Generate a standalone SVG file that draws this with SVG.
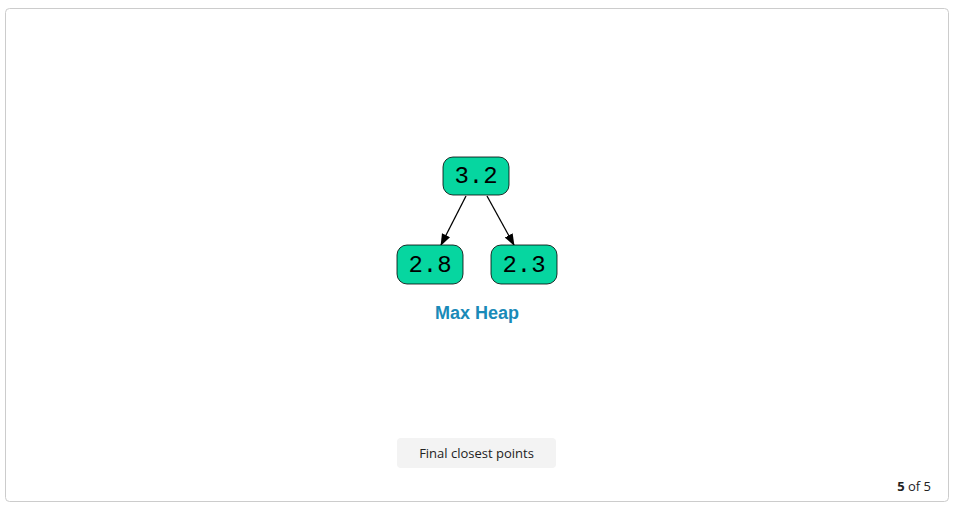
<svg xmlns="http://www.w3.org/2000/svg" width="954" height="507" viewBox="0 0 954 507">
<style>
.node rect{fill:#06d6a0;stroke:#000;stroke-width:0.8}
.node text{font-family:"Liberation Mono",monospace;font-size:24px;fill:#000;text-anchor:middle}
.edge{stroke:#000;stroke-width:1.3;fill:none}
</style>
<defs>
<marker id="ah" markerWidth="12" markerHeight="12" refX="11" refY="6" orient="auto" markerUnits="userSpaceOnUse">
<path d="M0,1.5 L12,6 L0,10.5 Z" fill="#000"/>
</marker>
</defs>
<rect x="5.5" y="8.5" width="943" height="493" rx="4" fill="#fff" stroke="#ccc"/>
<g id="connectors">
<line class="edge" x1="466" y1="196" x2="441" y2="245" marker-end="url(#ah)"/>
<line class="edge" x1="487" y1="196" x2="514" y2="245" marker-end="url(#ah)"/>
</g>
<g id="n1" class="node"><rect x="443" y="157" width="66" height="38" rx="10"/><text x="476" y="183">3.2</text></g>
<g id="n2" class="node"><rect x="397" y="245" width="66" height="39" rx="10"/><text x="430" y="272">2.8</text></g>
<g id="n3" class="node"><rect x="491" y="245" width="66" height="39" rx="10"/><text x="524" y="272">2.3</text></g>
<text x="477" y="319" font-family="Liberation Sans,Arial,sans-serif" font-weight="bold" font-size="18" fill="#1a8ab8" text-anchor="middle">Max Heap</text>
<g id="button">
<rect x="397" y="438" width="159" height="30" rx="4" fill="#f3f3f3"/>
<text x="476.5" y="458" font-family="Open Sans,Lato,sans-serif" font-size="13" fill="#222" text-anchor="middle">Final closest points</text>
</g>
<text x="931" y="491" font-family="Open Sans,Lato,sans-serif" font-size="13" fill="#222" text-anchor="end"><tspan font-weight="bold">5</tspan> of 5</text>
</svg>
